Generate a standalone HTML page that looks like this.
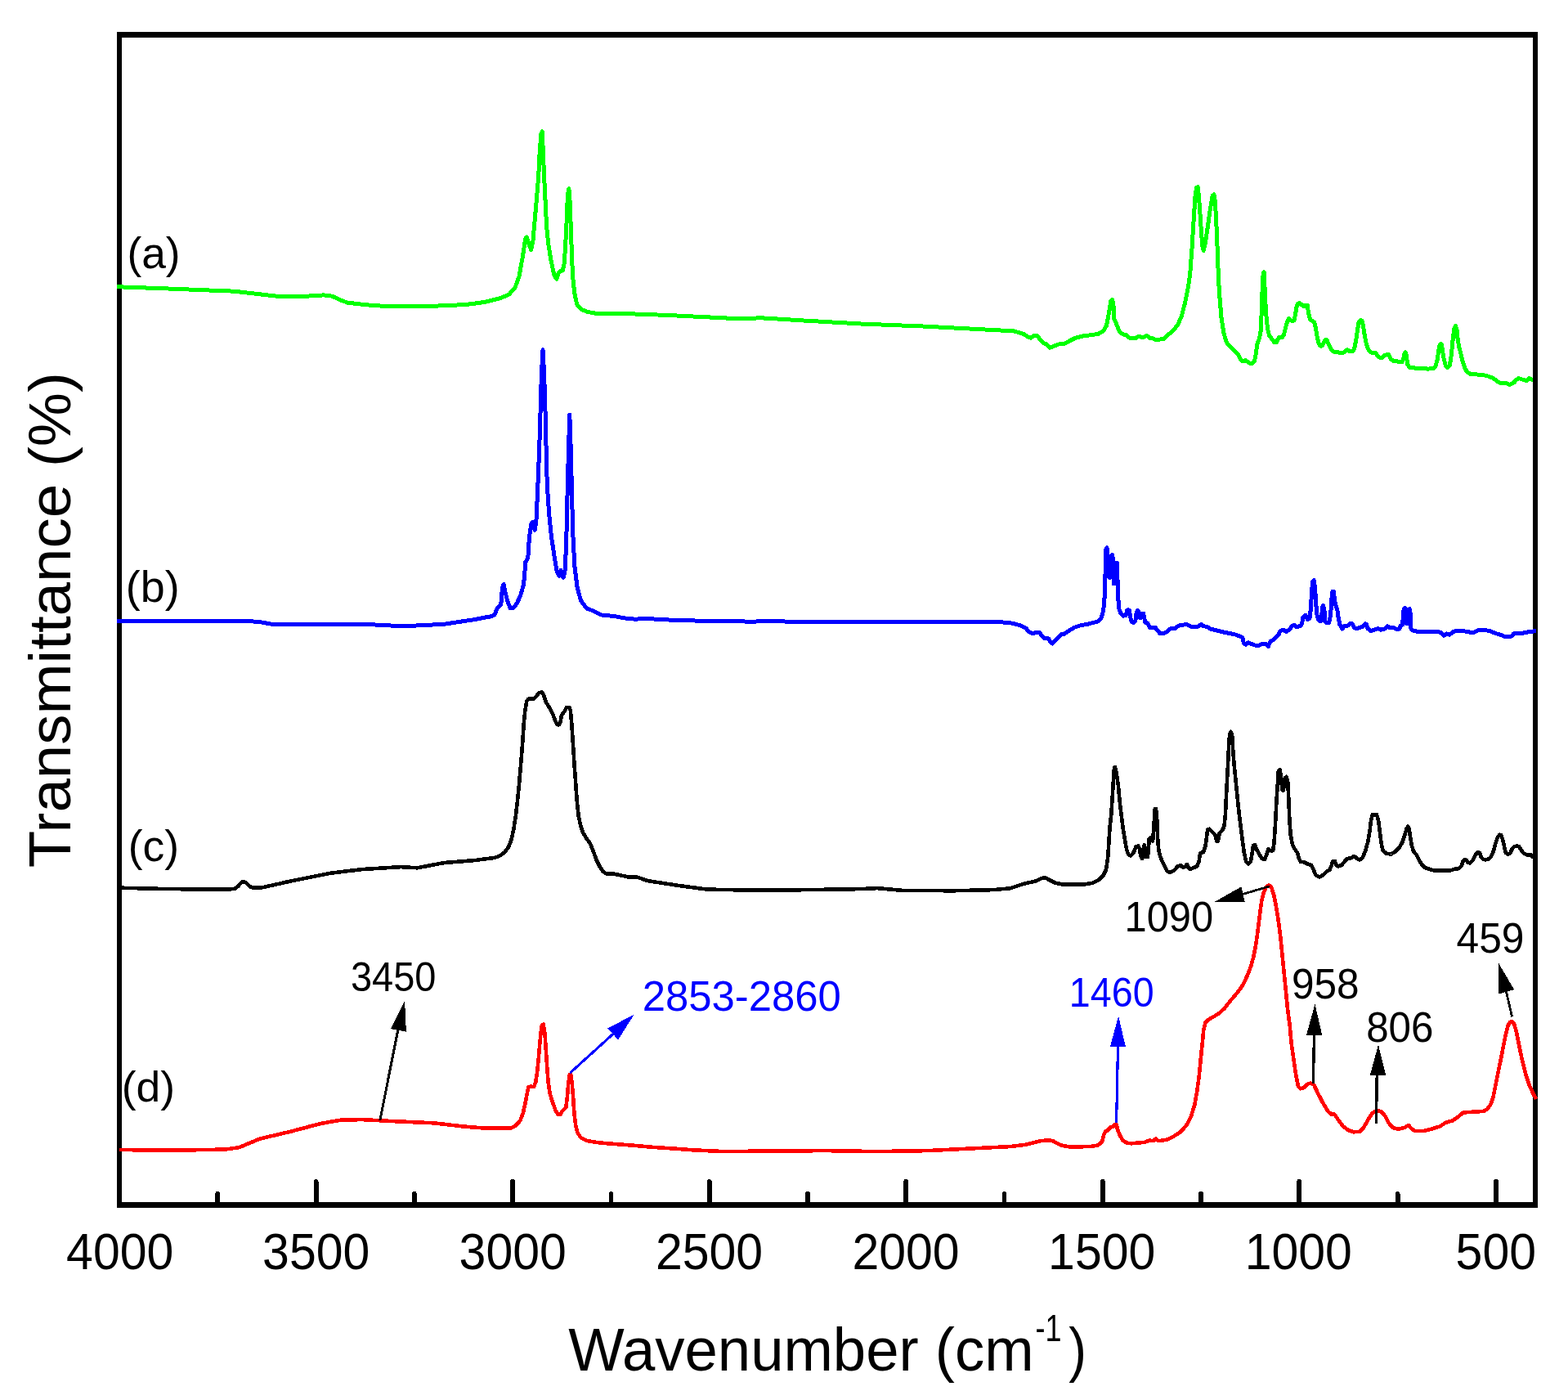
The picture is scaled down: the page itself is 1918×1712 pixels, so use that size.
<!DOCTYPE html>
<html lang="en">
<head>
<meta charset="utf-8">
<title>FTIR spectra</title>
<style>
html,body{margin:0;padding:0;background:#fff;}
body{width:1918px;height:1712px;overflow:hidden;}
svg{display:block;}
text{font-family:"Liberation Sans",sans-serif;font-size:100px;}
path,line,polygon{shape-rendering:crispEdges;}
</style>
</head>
<body>
<svg width="1918" height="1712" viewBox="0 0 1918 1712">
<rect x="0" y="0" width="1918" height="1712" fill="#ffffff"/>
<path d="M143,39.2H1880.9V1476.7H143Z M148.8,45.8V1470.3H1875.1V45.8Z" fill="#000" fill-rule="evenodd"/>
<path d="M266.3,1473.5 V1459.9 M386.6,1473.5 V1444.9 M506.8,1473.5 V1459.9 M627.1,1473.5 V1444.9 M747.4,1473.5 V1459.9 M867.7,1473.5 V1444.9 M987.9,1473.5 V1459.9 M1108.2,1473.5 V1444.9 M1228.5,1473.5 V1459.9 M1348.8,1473.5 V1444.9 M1469.1,1473.5 V1459.9 M1589.3,1473.5 V1444.9 M1709.6,1473.5 V1459.9 M1829.9,1473.5 V1444.9" fill="none" stroke="#000" stroke-width="5.8" stroke-linecap="round"/>
<path d="M142.8,350.7 L208.2,353.1 L286.4,356.2 L341.2,362.5 L364.6,362.8 L395.9,360.9 L406.3,362.2 L416.3,366.9 L425,370.1 L437.5,371.6 L456.3,373.6 L475.1,374.5 L506.4,374.7 L525.1,374.3 L550.2,373.6 L575.2,371.9 L594,369.2 L612.7,364.4 L622.7,360.1 L630.2,351.3 L635.2,337.5 L637.7,322.5 L639,316 L641.3,301 L642.8,291.9 L644.3,290 L647.3,299.5 L649.6,305.5 L651.9,294.9 L654.2,269.1 L656.4,243.3 L658.7,215.9 L660.2,185.6 L661.8,164.3 L663.3,160.8 L664.3,185.6 L665.6,215.9 L667.1,246.3 L668.6,276.7 L670.9,299.5 L673.9,317.7 L677.7,335.9 L680.7,341.2 L683,334.4 L685.3,331.7 L688.3,330.6 L690.2,322.2 L691.7,299.5 L693.2,269.1 L694.4,238.7 L695.9,230.7 L697.1,246.3 L698.2,276.7 L699.3,307.1 L700.5,337.4 L702.8,358.7 L705.8,372.4 L711.1,378.4 L718.7,381.5 L729.3,383.3 L760,383.4 L818.2,385.5 L896.4,389.4 L932.9,388.9 L974.6,391.5 L1052.8,396 L1131,399.1 L1235.3,404.6 L1240.5,405 L1251.5,408.2 L1257.9,412.1 L1261,413.2 L1264.9,410.5 L1268.9,410.5 L1272.8,416.1 L1276.8,420 L1279.9,420.8 L1283.9,425.2 L1286.2,424.7 L1291,422.4 L1295.7,420.8 L1302,420.5 L1308.3,416.9 L1314.6,413.7 L1322.5,411.3 L1333.6,409.8 L1343,408.5 L1349.3,405 L1353.3,398.7 L1355.6,387.7 L1357.5,376.6 L1358.8,368 L1360.4,366.7 L1361.9,371.1 L1362.7,389.3 L1365.9,397.1 L1369,405 L1373,408.5 L1377.7,409.8 L1382.4,413.7 L1388.8,413.7 L1392.7,411.3 L1398.2,412.6 L1402.9,410.5 L1406.1,413.2 L1410,413.7 L1413.2,415.3 L1423.4,414.8 L1428.2,409.8 L1434.5,405 L1440.8,397.1 L1445.5,386.1 L1449.5,370.3 L1453.4,351.4 L1455.8,334.1 L1458.1,302.5 L1460,271 L1462.1,239.4 L1463.7,229.2 L1465.2,228.7 L1466.8,244.2 L1468.9,275.7 L1470.8,300.9 L1472.3,306.5 L1474.2,297.8 L1477.1,278.9 L1480.2,256.8 L1483.1,239.4 L1485,237.9 L1486.5,247.3 L1488.1,278.9 L1489.4,310.4 L1490.5,341.9 L1492.1,365.6 L1494.1,389.3 L1496.8,406.6 L1499.9,417.6 L1503.1,422.4 L1506.3,425.1 L1510.5,429.3 L1514.7,434.1 L1517.3,438.8 L1519.5,441.7 L1521.6,441.4 L1523.7,440.7 L1525.8,442.1 L1527.9,444 L1531.5,444.3 L1534.2,441.9 L1534.7,440.9 L1536.3,432.5 L1537.9,420.9 L1540.5,413.6 L1542.1,405.1 L1542.9,389.4 L1543.6,368.3 L1544.4,347.3 L1545.2,333.6 L1546.1,332.6 L1547.1,352.6 L1548.2,375.7 L1549.4,392.5 L1551,404.1 L1552.6,410.4 L1555.7,414.6 L1558.9,418.8 L1561.5,418.8 L1563.1,414.6 L1564.7,412.5 L1568.3,412.7 L1570.4,409.3 L1572,403 L1573.6,396.7 L1575.2,391.5 L1576.8,389.4 L1578.9,391.5 L1581,393 L1583.1,391.5 L1584.6,384.1 L1585.7,376.8 L1587.3,371.5 L1589.4,370.7 L1592,372.5 L1594.6,374.9 L1597.3,373.1 L1599.4,373.1 L1600.4,382 L1602.5,390.4 L1605.1,392.5 L1607.8,394.1 L1609.3,400.9 L1610.9,410.4 L1613,419.9 L1615.1,423 L1617.2,423 L1619.3,418.8 L1620.9,415.7 L1623,415.7 L1625.1,420.9 L1627.7,426.2 L1630.4,429.8 L1633.5,430.9 L1636.7,430.4 L1638.8,432 L1643,431.4 L1646.1,428.8 L1648.2,427.7 L1651.4,429.8 L1654.6,429.8 L1656.7,426.2 L1658.8,415.7 L1660.3,405.1 L1661.9,394.6 L1664,391.5 L1666.1,392.5 L1667.7,399.9 L1669.3,410.4 L1671.4,420.9 L1674,427.7 L1677.7,431.2 L1682.9,431.4 L1685,435.1 L1687.7,437.2 L1690.8,437.2 L1694.5,434.1 L1698.2,433.3 L1699.5,435.2 L1701.6,439.4 L1704.7,441.5 L1708.9,441.8 L1712.1,443 L1715.2,442.5 L1716.8,438.8 L1717.9,432.5 L1719.1,430.6 L1720.5,434.6 L1721.5,445.1 L1724.2,449.3 L1730,449.9 L1734.2,450.6 L1740.5,450.9 L1743.6,450.4 L1746.2,451.4 L1749.9,450.6 L1753.6,450.4 L1756.2,447.2 L1758.1,439.9 L1759.4,431.5 L1760.7,423.1 L1762,420.7 L1763.4,421 L1764.6,429.4 L1766.2,438.8 L1768.3,447.2 L1770.4,449.3 L1773.1,447.2 L1774.6,439.9 L1776,427.3 L1777.3,413.6 L1778.8,402 L1780.4,398.7 L1782,403.1 L1783,413.6 L1784.6,424.1 L1786.7,431.5 L1788.8,440.9 L1791.5,449.3 L1794.1,454.1 L1798.3,457.2 L1804.6,457.5 L1809.9,458.6 L1816.2,459 L1821.4,460.4 L1826.7,462.5 L1831.9,466.7 L1836.1,468.5 L1842.5,468.5 L1846.7,470.4 L1851.9,467.7 L1855.1,464.1 L1857.7,462.5 L1861.4,463.9 L1864.5,464.6 L1867.2,465.6 L1870.3,462.5 L1873.5,464.1 L1875.3,464.3" fill="none" stroke="#00ff00" stroke-width="5.0" stroke-linejoin="round" stroke-linecap="butt"/>
<path d="M142.5,759.3 L300.2,759.3 L317.7,760.6 L335.2,763.8 L455.3,763.8 L492.9,765.8 L542.9,763.3 L580.5,757.6 L598,754.1 L599.1,754.2 L604.8,752 L608.2,744 L612.8,739.4 L614.4,718.9 L616.2,714.4 L617.8,723.5 L620.8,734.9 L624.2,744 L627.6,743.5 L632.1,738.3 L636.7,728 L640.6,714.4 L642.9,687 L645.8,682.5 L647.4,657.4 L649.7,641.5 L651.5,638.1 L654.2,648.3 L656.1,634.6 L657.9,593.6 L659.7,548.1 L661.1,502.5 L662.4,457 L664,427.8 L665.6,457 L667,502.5 L668.1,548.1 L669.3,593.6 L671.6,627.8 L674.3,655.1 L677.7,677.9 L681.1,698.4 L683.9,704.1 L686.1,697.3 L689.1,706.4 L691.4,696.1 L693,650.6 L694.3,593.6 L695.5,548.1 L696.8,507.1 L698.2,548.1 L699.3,593.6 L700.7,650.6 L702.8,691.6 L706.2,718.9 L710.7,734.9 L717.6,744 L726.7,747.4 L735.8,752 L751.7,753.6 L763.1,755.8 L776.8,757.2 L790,756.5 L820.1,758.1 L870.1,759.6 L920.2,760.1 L945.2,759.6 L970.2,760.3 L1220.5,760.3 L1238,762.1 L1249.2,765.1 L1250,765.8 L1255,768.3 L1258.8,772.6 L1263.8,774.9 L1266.3,773.6 L1271.3,773.6 L1273.8,776.4 L1276.9,780.1 L1282.6,780.8 L1285.1,785.2 L1287.2,787 L1290.1,783.9 L1293.8,780.1 L1298.2,775.8 L1301.3,775.4 L1307.6,771.4 L1313.8,767.4 L1321.3,764.9 L1330.1,763.3 L1337.6,761.4 L1342.6,760.1 L1346.4,757 L1348.9,750.1 L1350.8,737.6 L1351.6,715.1 L1352.4,690.1 L1353,671.3 L1353.9,669.8 L1354.9,677.5 L1355.8,696.3 L1357,706.3 L1358.3,706.3 L1358.9,690.1 L1359.9,678.8 L1360.9,678.8 L1361.6,696.3 L1362.4,713.8 L1363.4,713.8 L1364.1,696.3 L1364.9,688.2 L1366.4,688.2 L1367,708.8 L1367.6,727.6 L1368.6,743.9 L1370.8,750.1 L1373.9,753.2 L1377,752.6 L1378.7,746.4 L1380.2,745.7 L1381.4,746.4 L1382.7,755.1 L1384.5,760.8 L1387,761.4 L1388.9,758.9 L1390.2,748.9 L1391.7,746.6 L1393.3,748.9 L1394.5,755.7 L1395.8,755.7 L1397,750.7 L1398.7,750.1 L1399.9,756.4 L1400.8,761.4 L1403.9,762 L1406.4,767.6 L1410.2,767.6 L1413.3,767.6 L1416.4,771.4 L1418.9,774.5 L1423.3,774.9 L1427.1,772.6 L1431.5,768.9 L1437.7,768.6 L1441.5,765.1 L1446.5,764.5 L1450.9,763 L1456.5,766.1 L1465.2,766.1 L1469.6,763.5 L1471.9,765.7 L1476.3,766.4 L1480.6,769.1 L1487.5,770.7 L1497.5,773.2 L1510.1,775.7 L1516.3,777.9 L1520.1,780.1 L1521.3,786.4 L1523.8,788.2 L1526.9,785.7 L1531.3,787.6 L1536.3,789.5 L1540.1,789.1 L1543.8,787.4 L1548.8,787.6 L1551.3,790.8 L1553.8,784.5 L1558.9,781.4 L1563.9,776.4 L1565.7,772 L1569.5,770.1 L1573.2,772.6 L1577,770.1 L1580.8,765.1 L1583.3,764.5 L1586.4,767 L1590.8,765.3 L1592.6,762.6 L1593.9,755.1 L1597,752.3 L1599.5,757.6 L1602,756.3 L1603.6,742.6 L1604.5,722.6 L1605.8,710.7 L1607.3,709.8 L1608.7,720.1 L1609.5,735.1 L1610.8,751.3 L1612.7,758.2 L1615.2,759.8 L1616.7,755.1 L1617.4,742.6 L1618.5,740.7 L1619.9,745.1 L1620.8,760.1 L1622.7,762 L1625.8,761.3 L1627.7,751.3 L1628.9,732.6 L1629.9,723.2 L1631.4,723.2 L1632.7,735.1 L1634.6,742.6 L1635.8,745.1 L1637.1,755.1 L1638.9,763.8 L1641.7,768.9 L1644.6,765.7 L1648.9,765.1 L1651.4,762.8 L1654,762.8 L1656.5,767.6 L1659,768.9 L1663.3,767.4 L1667.1,766.4 L1670,762.8 L1671.5,763.8 L1673.3,768.9 L1677.1,771.6 L1681.5,770.1 L1685.2,768.6 L1689,770.1 L1694,768.9 L1697.1,765.7 L1699.6,767.4 L1702.9,767.5 L1705.8,768.1 L1708.7,769.6 L1711.5,769.2 L1713.3,765.2 L1715.6,764.1 L1716.5,750.3 L1717.3,744.6 L1718.4,743.6 L1720.1,744.6 L1720.8,762.9 L1722,762.9 L1722.9,745.7 L1724.2,744.6 L1725.3,750.3 L1725.9,768.6 L1728.2,770.9 L1732.8,772.1 L1758,772.1 L1762.6,773.8 L1766,777.2 L1769.5,775 L1772.9,776.1 L1777.5,772.7 L1782.1,771.2 L1789,771.2 L1794.7,772.7 L1799.3,773.2 L1803.9,773 L1808.5,770.7 L1815.3,770.4 L1822.2,771.5 L1829.1,774.4 L1834.8,776.1 L1840.6,778.4 L1844,779 L1848.6,778.1 L1851.5,775 L1854.3,774.6 L1860.1,775 L1865.8,773.2 L1872.7,772.7 L1877.3,771.5 L1879,771.5" fill="none" stroke="#0000ff" stroke-width="5.0" stroke-linejoin="round" stroke-linecap="butt"/>
<path d="M143.5,1085.6 L205.1,1087.1 L280.2,1087.6 L287.7,1086.6 L291.4,1083.6 L293.9,1080.6 L296.4,1078.6 L298.2,1078.1 L300.2,1078.9 L302.7,1081.4 L305.2,1083.9 L308.9,1085.4 L320.2,1085.4 L355.2,1077.6 L405.3,1067.6 L442.8,1063.1 L490.4,1060.1 L510.4,1061.3 L542.9,1055.1 L580.5,1052.1 L605.5,1048.8 L611.3,1046.5 L617,1042.4 L621.9,1035.9 L625.2,1027.7 L627.9,1016.3 L630.6,999.9 L632.9,980.3 L635,959 L637.1,934.5 L639.1,910 L640.7,885.4 L642.3,869.1 L644.3,857.6 L646.4,854.7 L653,854.7 L656.2,851.1 L659.5,847 L662.8,846.5 L665.2,850.3 L667.7,858.4 L671.8,865 L675.9,872.3 L679.1,881.3 L681.6,886.2 L684,886.2 L685.7,882.1 L686.8,874.8 L690.6,869.9 L693,865 L696.3,864.8 L697.9,869.1 L699.3,885.4 L700.4,901.8 L701.5,918.1 L702.5,934.5 L703.7,950.8 L704.8,967.2 L706.1,983.6 L707.8,998.3 L710.2,1009.7 L713,1017.9 L716.8,1024.4 L721.7,1031 L725.7,1040.8 L729.8,1052.2 L733.9,1060.4 L738,1066.1 L742.1,1068.6 L750.3,1068.6 L758.5,1070.2 L769.9,1072.7 L779.7,1072.7 L791.2,1076.8 L802.6,1078.7 L809.2,1079.7 L827.5,1082.6 L865.1,1087.6 L927.6,1088.8 L990.2,1088.1 L1052.8,1087.1 L1072.8,1086.1 L1102.8,1088.8 L1165.4,1089.3 L1215.4,1088.1 L1235.5,1086.3 L1250.5,1081.3 L1268,1077.1 L1272.4,1074.7 L1278,1073 L1283.6,1076.1 L1290.7,1079.6 L1299.1,1081.4 L1313.1,1081.7 L1327.1,1081.4 L1336.9,1079.6 L1343.9,1076.1 L1349.5,1070.5 L1353,1063.5 L1355.1,1049.4 L1356.5,1028.4 L1357.7,1010.2 L1359.3,996.2 L1360.7,975.1 L1361.9,954.1 L1362.9,940.1 L1363.8,938 L1365.7,945.7 L1367.8,959.7 L1369.9,982.1 L1372,999 L1374.1,1015.8 L1376.2,1028.4 L1378.3,1039.6 L1380.4,1045.2 L1383.2,1046.6 L1386.7,1042.4 L1389.5,1035.4 L1392.3,1034.3 L1394.1,1038.2 L1395.1,1046.6 L1397.2,1050.1 L1398.6,1038.2 L1399.7,1033.3 L1401.1,1039.6 L1402.1,1048 L1403.9,1048 L1404.9,1038.2 L1405.6,1025.6 L1407.7,1023.9 L1410.1,1028.4 L1411.5,1010.2 L1412.6,989.2 L1414,988.9 L1415.1,999 L1416.1,1024.2 L1417.1,1038.2 L1418.9,1046.6 L1421.7,1053.6 L1425.2,1060.7 L1428,1065.6 L1431.5,1067 L1436.4,1064.2 L1440.7,1059.3 L1444.2,1058.1 L1447,1060.7 L1449.8,1060 L1451.9,1057.1 L1454,1061.4 L1456.1,1063.2 L1460.3,1060.9 L1463.8,1060 L1466.6,1053.6 L1468,1043.8 L1472.2,1041.7 L1474.3,1035.4 L1476,1024.2 L1477.1,1014.4 L1479.2,1013.7 L1482.7,1017.2 L1486.2,1020.7 L1488.3,1029.1 L1490,1028.4 L1491.8,1018.6 L1495.3,1015.1 L1497.5,1010.2 L1498.9,996.2 L1499.9,975.1 L1501,954.1 L1502.1,933.1 L1503.1,912.1 L1504.1,898 L1505.5,894.8 L1507.1,898 L1508.3,919.1 L1510.1,940.1 L1512.2,961.1 L1514.3,982.1 L1516.7,1003.2 L1519.3,1024.2 L1521.8,1042.4 L1524.2,1053.6 L1527,1056.4 L1529.8,1053.6 L1531.6,1043.8 L1533,1034 L1535,1033.3 L1536.8,1038.2 L1540.3,1044.5 L1543.8,1050.1 L1547,1050.8 L1549.4,1045.2 L1551.5,1038.2 L1554.3,1040.3 L1557.1,1040.3 L1558.5,1031.2 L1559.9,1010.2 L1561.3,982.1 L1562.7,961.1 L1563.8,942.9 L1565.5,941.5 L1566.9,948.5 L1568.3,965.3 L1569.7,966.7 L1571.1,959.7 L1571.8,951.3 L1573.6,949.9 L1575.3,956.9 L1576.4,979.3 L1577.4,1003.2 L1578.8,1021.4 L1580.9,1032.6 L1583.7,1038.2 L1587.2,1043.1 L1588.6,1049.4 L1590.7,1053.6 L1595,1054.3 L1599.2,1056.4 L1604.1,1057.9 L1606.9,1064.2 L1609.7,1070.5 L1613.9,1072.6 L1618.8,1069.8 L1623,1065.6 L1626.5,1063.5 L1628.6,1058.6 L1630,1053.6 L1632.8,1052.9 L1634.2,1057.9 L1637,1059.3 L1641.2,1057.9 L1644.7,1053.6 L1647.5,1050.1 L1652.4,1049.4 L1656.6,1046.9 L1660.1,1050.1 L1662.9,1051.5 L1666.4,1049.4 L1670,1041 L1673.5,1028.4 L1675.6,1015.8 L1677,1003.2 L1678.8,996.2 L1684,996.2 L1686.1,1003.2 L1687.8,1017.2 L1689.6,1031.2 L1691.7,1040.3 L1695.9,1043.8 L1701.5,1044.5 L1706.4,1041.7 L1711.3,1036.8 L1715.5,1029.8 L1718.3,1021.4 L1720.5,1013.6 L1722.1,1010.7 L1723.7,1013.6 L1725.2,1024.1 L1726.8,1033.6 L1728.9,1040.9 L1732.6,1045.1 L1735.7,1051.4 L1738.9,1056.7 L1743.1,1060.9 L1747.3,1062.5 L1754.7,1064.6 L1773.6,1064.6 L1778.9,1062.8 L1784.1,1062.2 L1787.8,1058.8 L1789.4,1053.6 L1791.5,1051.4 L1794.1,1052 L1795.7,1055.1 L1798.3,1055.4 L1802,1051.4 L1805.1,1045.1 L1807.2,1042.5 L1809.9,1042.8 L1811.4,1047.2 L1813.6,1050.4 L1816.7,1051.4 L1820.9,1050.4 L1824.1,1047.2 L1827.2,1039.9 L1829.3,1031.5 L1831.4,1025.2 L1834.1,1020.7 L1836.2,1021 L1838.3,1027.3 L1840.4,1036.7 L1841.9,1043 L1844.6,1044.6 L1847.2,1043.6 L1849.8,1037.8 L1852.5,1035.2 L1855.6,1034.4 L1858.2,1035.2 L1860.9,1039.9 L1864,1043.6 L1868.2,1045.4 L1872.4,1045.4 L1876.6,1049.3" fill="none" stroke="#000000" stroke-width="4.6" stroke-linejoin="round" stroke-linecap="butt"/>
<path d="M146.3,1406.1 L217.6,1406.6 L275.2,1405.6 L292.7,1403.1 L317.7,1392.6 L355.2,1383.8 L392.8,1373.8 L417.8,1369.6 L442.8,1369.1 L480.4,1371.1 L530.4,1373.3 L568,1377.6 L593,1379.6 L608,1379.6 L625,1379.4 L630.7,1376.6 L636.3,1370.3 L639.8,1361.2 L642.6,1348.6 L644.7,1337.4 L646.4,1329 L648.9,1328.7 L653.1,1329 L655.2,1323.4 L657,1312.1 L658.7,1295.3 L660.1,1278.5 L661.5,1263.1 L662.9,1254 L664.6,1252.6 L666.4,1263.1 L667.8,1284.1 L669.2,1305.1 L670.6,1323.4 L672.7,1337.4 L676.2,1348.6 L679.7,1358.4 L682.5,1362.6 L685.3,1362.9 L688.1,1358.4 L692.3,1354.2 L694,1340.2 L695.4,1323.4 L696.8,1314.3 L698.2,1313.8 L699.6,1323.4 L701,1340.2 L702.4,1361.2 L704.3,1376.6 L706.4,1385 L710.6,1391.4 L717.6,1394.9 L730.2,1397 L744.2,1398.4 L772.2,1400.5 L800.3,1403 L828.3,1404.8 L847.5,1406.3 L885.1,1408.1 L935.1,1407.6 L1010.2,1407.1 L1072.8,1408.1 L1135.3,1407.1 L1185.4,1404.6 L1235.4,1402.1 L1255.5,1399.6 L1273,1395.1 L1283,1394.3 L1287.5,1395 L1293.4,1398.3 L1299.2,1400.8 L1308,1402.3 L1321.1,1402.3 L1334.3,1402 L1343,1400.5 L1348.1,1396.1 L1350.3,1387.4 L1352.5,1383 L1355.4,1382.2 L1357.6,1378.6 L1361.3,1377.9 L1363.5,1374.9 L1365.6,1374.9 L1367.1,1381.5 L1370,1388.8 L1373.7,1394.7 L1378.1,1397.6 L1383.9,1398.3 L1391.2,1397.6 L1400,1396.9 L1405.8,1394.7 L1410.9,1395 L1413.8,1392.5 L1416.8,1395 L1421.9,1394.7 L1427.7,1393.5 L1435,1390 L1443.8,1384.4 L1451.1,1376.4 L1456.9,1365.5 L1461.3,1350.9 L1464.2,1334.8 L1466.4,1318.7 L1467.9,1304.1 L1469.3,1289.5 L1470.8,1274.9 L1472.2,1260.3 L1474.5,1250.2 L1478.9,1246.4 L1485.1,1242.9 L1491.4,1238.9 L1497.6,1233.3 L1503.9,1225.2 L1510.2,1217.7 L1516.4,1210.2 L1521.4,1202.6 L1526.4,1191.4 L1530.2,1181.4 L1533.3,1170.1 L1535.8,1157.6 L1537.7,1145.1 L1539.6,1130.1 L1541.4,1115.1 L1543.3,1101.3 L1545.8,1091.3 L1548.9,1084.4 L1552.1,1082.5 L1555.2,1085 L1558.3,1095 L1560.8,1107.5 L1563.3,1122.6 L1565.8,1141.3 L1567.7,1160.1 L1569.6,1178.9 L1571.5,1197.6 L1573.3,1216.4 L1575.2,1235.2 L1577.7,1254 L1579.5,1274.5 L1582.4,1295.5 L1585.2,1314.4 L1587.9,1328.1 L1590.8,1331.3 L1594.6,1330.2 L1598.8,1326 L1603,1324.5 L1607.2,1326.6 L1611.4,1335.5 L1617.8,1348.1 L1624.1,1358.6 L1628.3,1362.4 L1632.5,1362.8 L1636.7,1369.1 L1643,1377.5 L1649.3,1382.1 L1655.6,1384.3 L1663,1383.8 L1668.2,1378.6 L1673.5,1369.1 L1678.7,1361.1 L1684,1358.2 L1689.3,1359 L1694.5,1364.9 L1698.7,1373.3 L1704,1379.2 L1710.3,1380.7 L1718.7,1378.8 L1719.3,1378 L1723.1,1376.1 L1726.3,1379.9 L1730.8,1383.1 L1741.1,1383.1 L1751.4,1380.5 L1761.7,1377.3 L1768.1,1372.8 L1777.1,1370.3 L1783.5,1365.8 L1790,1360.4 L1797.7,1360 L1806.7,1359.3 L1814.4,1359.1 L1819.5,1356.1 L1823.4,1350.4 L1826.6,1341.4 L1829.1,1328.5 L1831.7,1315.7 L1834.3,1302.8 L1836.9,1290 L1839.4,1277.1 L1842,1264.3 L1844.6,1254 L1847.1,1249.9 L1849.7,1249.2 L1852.3,1252.7 L1854.8,1261.7 L1857.4,1274.5 L1860,1287.4 L1863.2,1301.5 L1866.4,1314.4 L1870.3,1325.9 L1874.8,1336.2 L1878.9,1343.9" fill="none" stroke="#ff0000" stroke-width="4.6" stroke-linejoin="round" stroke-linecap="butt"/>
<text transform="translate(81.10,1552.26) scale(0.5900,0.6380)" fill="#000">4000</text>
<text transform="translate(321.07,1552.26) scale(0.5900,0.6380)" fill="#000">3500</text>
<text transform="translate(561.62,1552.26) scale(0.5900,0.6380)" fill="#000">3000</text>
<text transform="translate(801.88,1552.26) scale(0.5900,0.6380)" fill="#000">2500</text>
<text transform="translate(1042.44,1552.26) scale(0.5900,0.6380)" fill="#000">2000</text>
<text transform="translate(1282.11,1552.26) scale(0.5900,0.6380)" fill="#000">1500</text>
<text transform="translate(1522.66,1552.26) scale(0.5900,0.6380)" fill="#000">1000</text>
<text transform="translate(1780.62,1552.26) scale(0.5900,0.6380)" fill="#000">500</text>
<g><text transform="translate(695.28,1675.59) scale(0.7249,0.7340)" fill="#000">Wavenumber (cm</text><text transform="translate(1266.56,1640.00) scale(0.3600,0.4638)" fill="#000">-1</text><text transform="translate(1307.35,1675.59) scale(0.6538,0.7340)" fill="#000">)</text></g>
<text transform="translate(85.81,1061.19) rotate(-90) scale(0.7453,0.7234)" fill="#000">Transmittance (%)</text>
<text transform="translate(155.40,327.83) scale(0.5336,0.5319)" fill="#000">(a)</text>
<text transform="translate(153.77,735.83) scale(0.5391,0.5319)" fill="#000">(b)</text>
<text transform="translate(156.79,1052.63) scale(0.5346,0.5319)" fill="#000">(c)</text>
<text transform="translate(148.79,1347.01) scale(0.5345,0.5234)" fill="#000">(d)</text>
<text transform="translate(428.92,1211.70) scale(0.4696,0.4986)" fill="#000">3450</text>
<text transform="translate(785.66,1236.47) scale(0.5085,0.5254)" fill="#0000ff">2853-2860</text>
<text transform="translate(1307.87,1231.31) scale(0.4662,0.4930)" fill="#0000ff">1460</text>
<text transform="translate(1375.49,1138.68) scale(0.4886,0.5197)" fill="#000">1090</text>
<text transform="translate(1579.92,1221.39) scale(0.4955,0.5099)" fill="#000">958</text>
<text transform="translate(1671.13,1273.98) scale(0.4937,0.5197)" fill="#000">806</text>
<text transform="translate(1781.61,1165.18) scale(0.4969,0.5197)" fill="#000">459</text>
<line x1="464.8" y1="1369.9" x2="486.7" y2="1260" stroke="#000" stroke-width="3.0"/>
<polygon points="495.1,1223.9 478,1258.2 496.9,1261.6" fill="#000"/>
<line x1="697.2" y1="1312.2" x2="749.8" y2="1264.5" stroke="#0000ff" stroke-width="3.1"/>
<polygon points="775.8,1240.4 743.5,1257.5 756.1,1271.5" fill="#0000ff"/>
<line x1="1365.6" y1="1372.8" x2="1367.5" y2="1279" stroke="#0000ff" stroke-width="3.2"/>
<polygon points="1368.1,1242.5 1357.9,1280 1376.9,1280" fill="#0000ff"/>
<line x1="1552.7" y1="1083.8" x2="1520.4" y2="1093.4" stroke="#000" stroke-width="2.7"/>
<polygon points="1485.1,1103.2 1518.3,1084.4 1522.7,1102.5" fill="#000"/>
<line x1="1606.5" y1="1324.8" x2="1607.4" y2="1265" stroke="#000" stroke-width="3.3"/>
<polygon points="1608.5,1227.9 1598,1265.7 1617.2,1265.7" fill="#000"/>
<line x1="1683.6" y1="1373.7" x2="1684.2" y2="1314" stroke="#000" stroke-width="3.3"/>
<polygon points="1686,1277.4 1675.8,1314.8 1695.1,1314.8" fill="#000"/>
<line x1="1849.6" y1="1243.3" x2="1842.4" y2="1212.6" stroke="#000" stroke-width="2.8"/>
<polygon points="1832.7,1177 1832.7,1215.7 1852.1,1210.1" fill="#000"/>
</svg>
</body>
</html>
